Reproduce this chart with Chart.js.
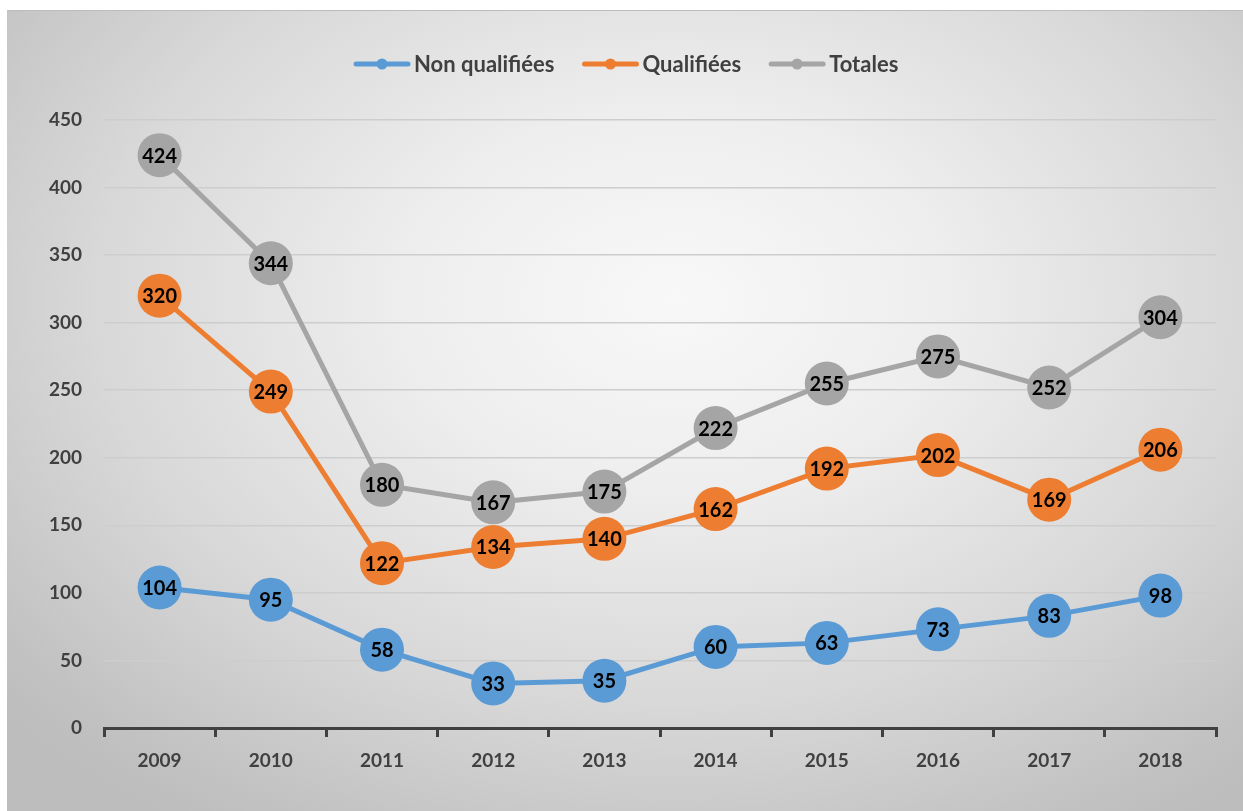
<!DOCTYPE html>
<html>
<head>
<meta charset="utf-8">
<script src="https://cdn.jsdelivr.net/npm/chart.js@4"></script>
<style>
  html, body { margin: 0; padding: 0; background: #fff; }
  #wrap {
    position: absolute; left: 7px; top: 10px; width: 1236px; height: 801px;
    border-top: 1px solid #bcbcbc;
    background: radial-gradient(ellipse 72% 78% at 54% 36%, #f8f8f8 0%, #eeeeee 30%, #d8d8d8 65%, #c2c2c2 92%, #bdbdbd 100%);
  }
</style>
</head>
<body>
<div id="wrap"><canvas id="chart"></canvas></div>
<script>
// ── Data ─────────────────────────────────────────────────────
const years = ['2009','2010','2011','2012','2013','2014','2015','2016','2017','2018'];
const nonQualifiees = [104, 95, 58, 33, 35, 60, 63, 73, 83, 98];
const qualifiees = [320, 249, 122, 134, 140, 162, 192, 202, 169, 206];
const totales = [424, 344, 180, 167, 175, 222, 255, 275, 252, 304];
const seriesNames = ['Non qualifiées', 'Qualifiées', 'Totales'];
const seriesColors = ['#5b9bd5', '#ed7d31', '#a5a5a5'];

const FONT = 'Lato, "Open Sans", sans-serif';

function series(i, data) {
  return {
    label: seriesNames[i], data,
    borderColor: seriesColors[i], backgroundColor: seriesColors[i],
    borderWidth: 5, pointRadius: 22, pointHoverRadius: 22, pointBorderWidth: 0,
    tension: 0
  };
}

// value inside each marker
const valueLabels = {
  id: 'valueLabels',
  afterDatasetsDraw(chart) {
    const c = chart.ctx;
    c.save();
    c.font = 'bold 20px ' + FONT;
    c.fillStyle = '#000';
    c.textAlign = 'center';
    c.textBaseline = 'middle';
    chart.data.datasets.forEach((ds, i) => {
      chart.getDatasetMeta(i).data.forEach((pt, j) => c.fillText(ds.data[j], pt.x, pt.y + 1));
    });
    c.restore();
  }
};

// legend row: line with a dot, then the series name
const lineLegend = {
  id: 'lineLegend',
  afterDraw(chart) {
    const c = chart.ctx;
    c.save();
    c.font = 'bold 22px ' + FONT;
    c.textBaseline = 'middle';
    const lineW = 56, gapText = 4, gapItem = 28, y = 53;
    let x = 347;
    chart.data.datasets.forEach((ds) => {
      c.strokeStyle = ds.borderColor; c.lineWidth = 5; c.lineCap = 'round';
      c.beginPath(); c.moveTo(x + 2, y); c.lineTo(x + lineW - 2, y); c.stroke();
      c.fillStyle = ds.borderColor;
      c.beginPath(); c.arc(x + lineW / 2, y, 5.5, 0, Math.PI * 2); c.fill();
      c.fillStyle = '#404040';
      c.fillText(ds.label, x + lineW + gapText, y + 1);
      x += lineW + gapText + c.measureText(ds.label).width + gapItem;
    });
    c.restore();
  }
};

new Chart(document.getElementById('chart'), {
  type: 'line',
  data: {
    labels: years,
    datasets: [series(0, nonQualifiees), series(1, qualifiees), series(2, totales)]
  },
  plugins: [valueLabels, lineLegend],
  options: {
    responsive: true, maintainAspectRatio: false, animation: false,
    events: [],
    layout: { padding: { top: 109, right: 27, bottom: 0, left: 0 } },
    plugins: { legend: { display: false }, tooltip: { enabled: false } },
    scales: {
      x: {
        offset: true,
        grid: { offset: true, drawOnChartArea: false, drawTicks: true, tickLength: 9, color: '#404040', lineWidth: 3 },
        border: { display: true, color: '#404040', width: 3 },
        ticks: { padding: 12, color: '#404040', font: { family: FONT, size: 19, weight: 'bold' } },
        afterFit(s) { s.height = 84; }
      },
      y: {
        min: 0, max: 450,
        grid: { color: '#cdcdcd', lineWidth: 1.5, drawTicks: false },
        border: { display: false },
        ticks: { stepSize: 50, padding: 22, color: '#404040', font: { family: FONT, size: 19, weight: 'bold' } },
        afterFit(s) { s.width = 97; }
      }
    }
  }
});
</script>
</body>
</html>
